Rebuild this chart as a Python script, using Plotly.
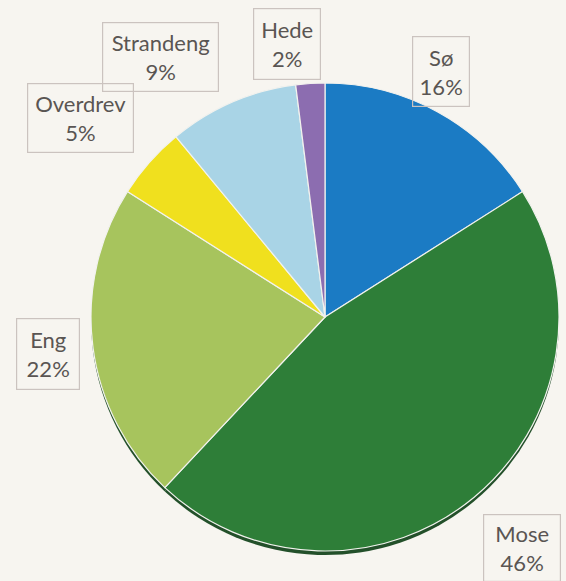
import plotly.graph_objects as go

categories = ["Sø", "Mose", "Eng", "Overdrev", "Strandeng", "Hede"]
values = [16, 46, 22, 5, 9, 2]
colors = ["#1b7bc4", "#2e7e38", "#a7c45d", "#f0e01e", "#a9d4e6", "#8c6db0"]

W, H = 566, 581
BG = "#f7f5f0"
# label box centers (pixels) and sizes
label_pos = {
    "Sø": (441, 71, 58, 71),
    "Hede": (287, 44, 68, 72),
    "Strandeng": (160, 57, 117, 70),
    "Overdrev": (80, 118, 107, 70),
    "Eng": (48, 354, 64, 72),
    "Mose": (522, 548, 78, 68),
}

dom_x = [91 / W, 559 / W]
dom_y = [1 - 551 / H, 1 - 83 / H]
sh = 4 / H

fig = go.Figure()
# shadow
fig.add_trace(go.Pie(
    labels=categories, values=values, sort=False, direction="clockwise",
    rotation=0, marker=dict(colors=["#23502a"] * len(values), line=dict(width=0)),
    textinfo="none", hoverinfo="skip", showlegend=False,
    domain=dict(x=dom_x, y=[dom_y[0] - sh, dom_y[1] - sh]),
))
fig.add_trace(go.Pie(
    labels=categories,
    values=values,
    sort=False,
    direction="clockwise",
    rotation=0,
    marker=dict(colors=colors, line=dict(color="#f2f2ee", width=1.2)),
    textinfo="none",
    hoverinfo="label+percent",
    showlegend=False,
    domain=dict(x=dom_x, y=dom_y),
))

total = sum(values)
for cat, v in zip(categories, values):
    cx, cy, bw, bh = label_pos[cat]
    fig.add_annotation(
        x=cx / W, y=1 - cy / H, xref="paper", yref="paper",
        xanchor="center", yanchor="middle",
        text=f"{cat}<br>{round(100 * v / total)}%",
        showarrow=False,
        font=dict(family="Lato, Open Sans, sans-serif", size=22, color="#5a5553"),
        bordercolor="#cbc3bf", borderwidth=1.2,
        width=bw - 4, height=bh - 4, align="center", valign="middle",
        bgcolor="rgba(0,0,0,0)",
    )

fig.update_layout(
    width=W, height=H,
    margin=dict(l=0, r=0, t=0, b=0),
    paper_bgcolor=BG,
    plot_bgcolor=BG,
)

fig.write_html(
    "out.html",
    config={"displayModeBar": False},
    post_script=f"document.body.style.margin='0';document.body.style.background='{BG}';",
)
